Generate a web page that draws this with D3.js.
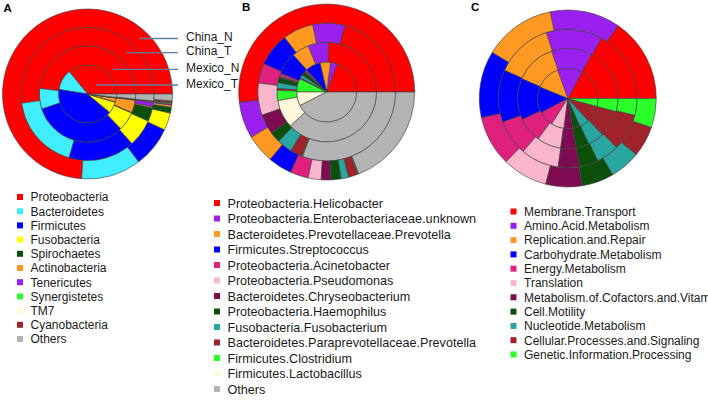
<!DOCTYPE html>
<html>
<head>
<meta charset="utf-8">
<script src="https://cdn.jsdelivr.net/npm/d3@7"></script>
<style>
  html, body { margin: 0; padding: 0; background: #fff; overflow: hidden; }
  svg { display: block; font-family: "Liberation Sans", Arial, sans-serif; }
</style>
</head>
<body>
<svg id="chart" width="708" height="400"></svg>
<script>
// ---------------- DATA ----------------
// Rings from innermost to outermost
const ringNames = ["Mexico_T", "Mexico_N", "China_T", "China_N"];
const ringLabelsTopDown = ["China_N", "China_T", "Mexico_N", "Mexico_T"];

// Panel A: phylum level (percent)
const phylumCats = ["Proteobacteria", "Bacteroidetes", "Firmicutes", "Fusobacteria", "Spirochaetes",
  "Actinobacteria", "Tenericutes", "Synergistetes", "TM7", "Cyanobacteria", "Others"];
const phylumColors = ["#FF0000", "#40EEFF", "#0000FF", "#FFFF00", "#0B500B",
  "#FF9922", "#9B20F0", "#2AFF2A", "#FFF8DC", "#A0222A", "#B3B3B3"];
const phylumMexicoT = [36.1, 11.7, 41.7, 6.4, 0.2, 2.2, 0.1, 0.1, 0.05, 0.1, 1.9];
const phylumMexicoN = [48.3, 6.9, 32.2, 6.4, 0.2, 4.2, 0.1, 0.1, 0.05, 0.1, 1.7];
const phylumChinaT  = [52.2, 18.3, 16.1, 6.7, 3.3, 0.3, 1.1, 0.1, 0.05, 0.1, 1.7];
const phylumChinaN  = [73.9, 11.4, 7.8, 3.3, 1.1, 0.4, 0.2, 0.2, 0.1, 0.3, 1.3];

// Panel B: genus level (percent)
const genusCats = ["Proteobacteria.Helicobacter", "Proteobacteria.Enterobacteriaceae.unknown",
  "Bacteroidetes.Prevotellaceae.Prevotella", "Firmicutes.Streptococcus", "Proteobacteria.Acinetobacter",
  "Proteobacteria.Pseudomonas", "Bacteroidetes.Chryseobacterium", "Proteobacteria.Haemophilus",
  "Fusobacteria.Fusobacterium", "Bacteroidetes.Paraprevotellaceae.Prevotella", "Firmicutes.Clostridium",
  "Firmicutes.Lactobacillus", "Others"];
const genusColors = ["#FF0000", "#9B20F0", "#FF9922", "#0000FF", "#E0207F", "#FAB6CA",
  "#7D0C52", "#0B500B", "#2AA6A0", "#A0222A", "#2AFF2A", "#FFF8DC", "#B3B3B3"];
const genusMexicoT = [19.4, 3.6, 5.6, 8.3, 0.8, 0.3, 0.3, 2.2, 1.7, 0.6, 7.2, 7.5, 42.5];
const genusMexicoN = [24.4, 6.7, 5.6, 7.2, 0.8, 0.3, 0.3, 1.7, 1.9, 0.6, 3.3, 9.2, 38.0];
const genusChinaT  = [20.8, 7.5, 7.2, 7.8, 4.6, 7.6, 4.7, 2.5, 3.6, 2.8, 0.1, 0.1, 30.7];
const genusChinaN  = [51.9, 6.7, 5.3, 4.4, 3.3, 2.4, 1.75, 1.9, 1.4, 1.7, 0.1, 0.1, 19.05];

// Panel C: KEGG pathways (percent)
const pathwayCats = ["Membrane.Transport", "Amino.Acid.Metabolism", "Replication.and.Repair",
  "Carbohydrate.Metabolism", "Energy.Metabolism", "Translation", "Metabolism.of.Cofactors.and.Vitamins",
  "Cell.Motility", "Nucleotide.Metabolism", "Cellular.Processes.and.Signaling",
  "Genetic.Information.Processing"];
const pathwayColors = ["#FF0000", "#9B20F0", "#FF9922", "#0000FF", "#E0207F", "#FAB6CA",
  "#7D0C52", "#0B500B", "#2AA6A0", "#A0222A", "#2AFF2A"];
const pathwayMexicoT = [17.2, 13.3, 13.3, 13.9, 8.3, 6.9, 4.7, 3.9, 5.3, 8.9, 4.2];
const pathwayMexicoN = [17.2, 13.1, 13.3, 13.3, 8.1, 7.8, 5.0, 4.2, 5.3, 8.6, 4.2];
const pathwayChinaT  = [16.9, 13.1, 13.3, 12.2, 8.3, 8.9, 5.0, 4.4, 5.3, 8.6, 3.9];
const pathwayChinaN  = [15.4, 12.8, 13.1, 12.2, 9.2, 8.3, 6.6, 5.9, 5.6, 5.6, 5.3];

// ---------------- DRAW ----------------
const svg = d3.select("#chart");

const pie = d3.pie().sort(null).value(d => d)
  .startAngle(Math.PI / 2).endAngle(Math.PI / 2 - 2 * Math.PI); // start at 3 o'clock, counter-clockwise

function drawPanel(cx, cy, outerR, rings, colors) {
  const g = svg.append("g").attr("transform", `translate(${cx},${cy})`);
  // ring index -> radius
  const rScale = d3.scaleLinear().domain([0, 1, 2, 3, 4])
    .range([0, outerR * 0.342, outerR * 0.567, outerR * 0.784, outerR]);
  rings.forEach((vals, i) => {
    const arc = d3.arc().innerRadius(rScale(i)).outerRadius(rScale(i + 1));
    g.append("g").selectAll("path").data(pie(vals)).join("path")
      .attr("d", arc)
      .attr("fill", (d, j) => colors[j])
      .attr("stroke", "#3c3c3c")
      .attr("stroke-width", 0.6)
      .attr("stroke-linejoin", "round");
  });
  return { g, rScale };
}

function drawLegend(x, y0, step, cats, colors, fontSize) {
  const yScale = d3.scaleLinear().domain([0, 1]).range([y0, y0 + step]);
  const g = svg.append("g");
  cats.forEach((c, i) => {
    g.append("rect").attr("x", x - 3).attr("y", yScale(i) - 3).attr("width", 6).attr("height", 6)
      .attr("fill", colors[i]);
    g.append("text").attr("x", x + 10.5).attr("y", yScale(i)).attr("dy", "0.36em")
      .attr("font-size", fontSize).attr("fill", "#1a1a1a").text(c);
  });
}

// Panel A
const pA = drawPanel(87.5, 94, 85, [phylumMexicoT, phylumMexicoN, phylumChinaT, phylumChinaN], phylumColors);
// Panel B
drawPanel(326.7, 92, 88, [genusMexicoT, genusMexicoN, genusChinaT, genusChinaN], genusColors);
// Panel C
drawPanel(567.8, 98.5, 88.5, [pathwayMexicoT, pathwayMexicoN, pathwayChinaT, pathwayChinaN], pathwayColors);

// Ring labels on panel A
const labelY = [38.5, 52.7, 69.3, 85];
ringLabelsTopDown.forEach((name, k) => {
  const ringIdx = ringNames.indexOf(name);
  const rMid = (pA.rScale(ringIdx) + pA.rScale(ringIdx + 1)) / 2;
  const x1 = 87.5 + rMid * Math.cos(Math.PI / 4) - 2;
  svg.append("line").attr("x1", x1).attr("x2", 178)
    .attr("y1", labelY[k]).attr("y2", labelY[k])
    .attr("stroke", "#5f7f9c").attr("stroke-width", 1.3);
  svg.append("text").attr("x", 186).attr("y", labelY[k] - 1.8).attr("dy", "0.36em")
    .attr("font-size", 12).attr("fill", "#1a1a1a").text(name);
});

// Panel letters
svg.append("text").attr("x", 3.5).attr("y", 12).attr("font-size", 11.5).attr("font-weight", "bold").text("A");
svg.append("text").attr("x", 242).attr("y", 10.8).attr("font-size", 11.5).attr("font-weight", "bold").text("B");
svg.append("text").attr("x", 471).attr("y", 11.2).attr("font-size", 11.5).attr("font-weight", "bold").text("C");

// Legends
drawLegend(20, 197, 14.2, phylumCats, phylumColors, 12);
drawLegend(217, 203, 15.5, genusCats, genusColors, 12.6);
drawLegend(513.5, 211.5, 14.3, pathwayCats, pathwayColors, 12);
</script>
</body>
</html>
